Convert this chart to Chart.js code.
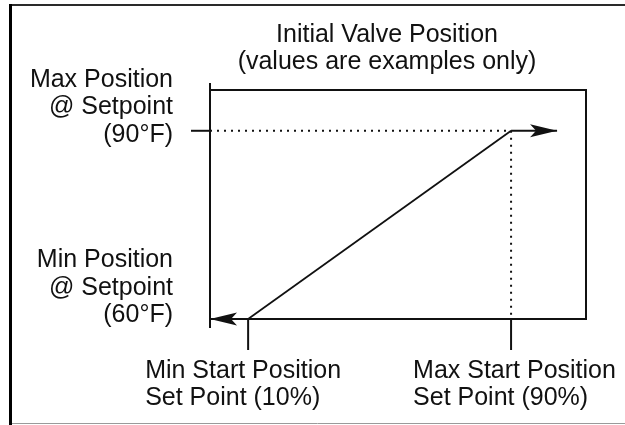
<!DOCTYPE html>
<html>
<head>
<meta charset="utf-8">
<script src="https://cdn.jsdelivr.net/npm/chart.js@4/dist/chart.umd.min.js"></script>
<style>
  html, body { margin: 0; padding: 0; background: #fff; }
  canvas { display: block; }
</style>
</head>
<body>
<canvas id="valveChart" width="625" height="425"></canvas>
<script>
// ---------------- Chart data -------------------------------------------------
var titleLines    = [ 'Initial Valve Position', '(values are examples only)' ] ;

// start position set points (% of valve travel) and matching setpoints (°F)
var startPoints   = [ 10, 90 ] ;
var setpointTemps = [ 60, 90 ] ;

var startLabels   = [ [ 'Min Start Position', 'Set Point (10%)' ],
                      [ 'Max Start Position', 'Set Point (90%)' ] ] ;
var setpointLabels = [ [ 'Min Position', '@ Setpoint', '(60°F)' ],
                       [ 'Max Position', '@ Setpoint', '(90°F)' ] ] ;

var xRange = [ -1.6, 112.8 ] ;
var yRange = [ 60, 96.5 ] ;
var arrowEndX = 104 ;

var INK  = '#111' ;
var FONT = '25px "Liberation Sans", Arial, sans-serif' ;

// ---------------- Datasets ---------------------------------------------------
function pts( xs, ys ) {
    var out = [] ;
    for( var i = 0; i < xs.length; i++ ) {
        out.push( { x: xs[i], y: ys[i] } ) ;
    }
    return out ;
}

var datasets = [
    {
        name        : 'ramp',
        data        : pts( startPoints, setpointTemps ),
        borderColor : INK,
        borderWidth : 1.8
    },
    {
        name        : 'max-arrow',
        data        : pts( [ startPoints[1], arrowEndX ], [ setpointTemps[1], setpointTemps[1] ] ),
        borderColor : INK,
        borderWidth : 2,
        arrow       : true
    },
    {
        name        : 'min-arrow',
        data        : pts( [ startPoints[0], xRange[0] ], [ setpointTemps[0], setpointTemps[0] ] ),
        borderColor : INK,
        borderWidth : 2,
        arrow       : true
    },
    {
        name        : 'max-dotted-h',
        data        : pts( [ xRange[0], startPoints[1] ], [ setpointTemps[1], setpointTemps[1] ] ),
        borderColor : INK,
        borderWidth : 2,
        borderDash  : [ 2, 5 ]
    },
    {
        name        : 'max-dotted-v',
        data        : pts( [ startPoints[1], startPoints[1] ], [ setpointTemps[1], setpointTemps[0] ] ),
        borderColor : INK,
        borderWidth : 2,
        borderDash  : [ 2, 5 ]
    }
] ;

for( var d = 0; d < datasets.length; d++ ) {
    datasets[d].type = 'line' ;
    datasets[d].showLine = true ;
    datasets[d].pointRadius = 0 ;
    datasets[d].tension = 0 ;
    datasets[d].fill = false ;
    datasets[d].borderCapStyle = 'butt' ;
}

// ---------------- Frame, axes, arrows and labels -----------------------------
var framePlugin = {
    id : 'frame',
    beforeDraw : function( chart ) {
        var ctx = chart.ctx ;
        ctx.save() ;
        ctx.fillStyle = '#fff' ;
        ctx.fillRect( 0, 0, chart.width, chart.height ) ;
        // outer border
        ctx.strokeStyle = '#9a9a9a' ;
        ctx.lineWidth = 1 ;
        ctx.beginPath() ; ctx.moveTo( 10, 423.5 ) ; ctx.lineTo( 625, 423.5 ) ; ctx.stroke() ;
        ctx.strokeStyle = '#2a2a2a' ;
        ctx.lineWidth = 2 ;
        ctx.beginPath() ; ctx.moveTo( 10, 5 ) ; ctx.lineTo( 625, 5 ) ; ctx.stroke() ;
        ctx.strokeStyle = '#000' ;
        ctx.lineWidth = 3 ;
        ctx.beginPath() ; ctx.moveTo( 10.5, 4 ) ; ctx.lineTo( 10.5, 425 ) ; ctx.stroke() ;
        ctx.restore() ;
    },
    afterDatasetsDraw : function( chart ) {
        var ctx = chart.ctx ;
        var a = chart.chartArea ;
        var xs = chart.scales.x, ys = chart.scales.y ;
        ctx.save() ;
        ctx.strokeStyle = INK ;
        ctx.lineWidth = 2 ;
        ctx.lineCap = 'butt' ;

        // plot box (top, right, bottom)
        ctx.beginPath() ;
        ctx.moveTo( a.left, a.top ) ;
        ctx.lineTo( a.right, a.top ) ;
        ctx.lineTo( a.right, a.bottom ) ;
        ctx.lineTo( a.left, a.bottom ) ;
        ctx.stroke() ;

        // left axis, overshooting the box
        ctx.beginPath() ;
        ctx.moveTo( a.left, a.top - 7 ) ;
        ctx.lineTo( a.left, a.bottom + 9 ) ;
        ctx.stroke() ;

        // tick at max setpoint
        var yMax = ys.getPixelForValue( setpointTemps[1] ) ;
        ctx.beginPath() ;
        ctx.moveTo( a.left - 19, yMax ) ;
        ctx.lineTo( a.left, yMax ) ;
        ctx.stroke() ;

        // ticks at start set points
        for( var i = 0; i < startPoints.length; i++ ) {
            var px = xs.getPixelForValue( startPoints[i] ) ;
            ctx.beginPath() ;
            ctx.moveTo( px, a.bottom ) ;
            ctx.lineTo( px, a.bottom + 31 ) ;
            ctx.stroke() ;
        }

        // arrow heads
        chart.data.datasets.forEach( function( ds, idx ) {
            if( !ds.arrow ) return ;
            var meta = chart.getDatasetMeta( idx ).data ;
            var p0 = meta[ meta.length - 2 ], p1 = meta[ meta.length - 1 ] ;
            var ang = Math.atan2( p1.y - p0.y, p1.x - p0.x ) ;
            ctx.save() ;
            ctx.translate( p1.x, p1.y ) ;
            ctx.rotate( ang ) ;
            ctx.fillStyle = INK ;
            ctx.beginPath() ;
            ctx.moveTo( 0, 0 ) ;
            ctx.lineTo( -27, -6.5 ) ;
            ctx.lineTo( -21, 0 ) ;
            ctx.lineTo( -27, 6.5 ) ;
            ctx.closePath() ;
            ctx.fill() ;
            ctx.restore() ;
        } ) ;
        ctx.restore() ;
    },
    afterDraw : function( chart ) {
        var ctx = chart.ctx ;
        var a = chart.chartArea ;
        var xs = chart.scales.x, ys = chart.scales.y ;
        ctx.save() ;
        ctx.fillStyle = '#111' ;
        ctx.font = FONT ;
        ctx.textBaseline = 'alphabetic' ;

        // title
        ctx.textAlign = 'center' ;
        ctx.fillText( titleLines[0], 387, 42 ) ;
        ctx.fillText( titleLines[1], 387, 69 ) ;

        // start position labels, left aligned below their ticks
        ctx.textAlign = 'left' ;
        var shift = [ -103, -98 ] ;
        for( var i = 0; i < startLabels.length; i++ ) {
            var px = xs.getPixelForValue( startPoints[i] ) + shift[i] ;
            ctx.fillText( startLabels[i][0], px, a.bottom + 59 ) ;
            ctx.fillText( startLabels[i][1], px, a.bottom + 86 ) ;
        }

        // setpoint labels
        ctx.textAlign = 'right' ;
        var lastBase = [ ys.getPixelForValue( setpointTemps[0] ) + 3,
                         ys.getPixelForValue( setpointTemps[1] ) + 11 ] ;
        for( var j = 0; j < setpointLabels.length; j++ ) {
            var lines = setpointLabels[j] ;
            for( var k = 0; k < lines.length; k++ ) {
                ctx.fillText( lines[k], 173, lastBase[j] - ( lines.length - 1 - k ) * 27.5 ) ;
            }
        }
        ctx.restore() ;
    }
} ;

// ---------------- Chart ------------------------------------------------------
var chart = new Chart( document.getElementById( 'valveChart' ), {
    type : 'scatter',
    data : { datasets : datasets },
    options : {
        responsive : false,
        animation : false,
        events : [],
        layout : { padding : { left : 210, top : 90, right : 39, bottom : 106 } },
        plugins : {
            legend  : { display : false },
            tooltip : { enabled : false },
            title   : { display : false }
        },
        scales : {
            x : { type : 'linear', min : xRange[0], max : xRange[1], display : false },
            y : { type : 'linear', min : yRange[0], max : yRange[1], display : false }
        }
    },
    plugins : [ framePlugin ]
} ) ;
</script>
</body>
</html>
